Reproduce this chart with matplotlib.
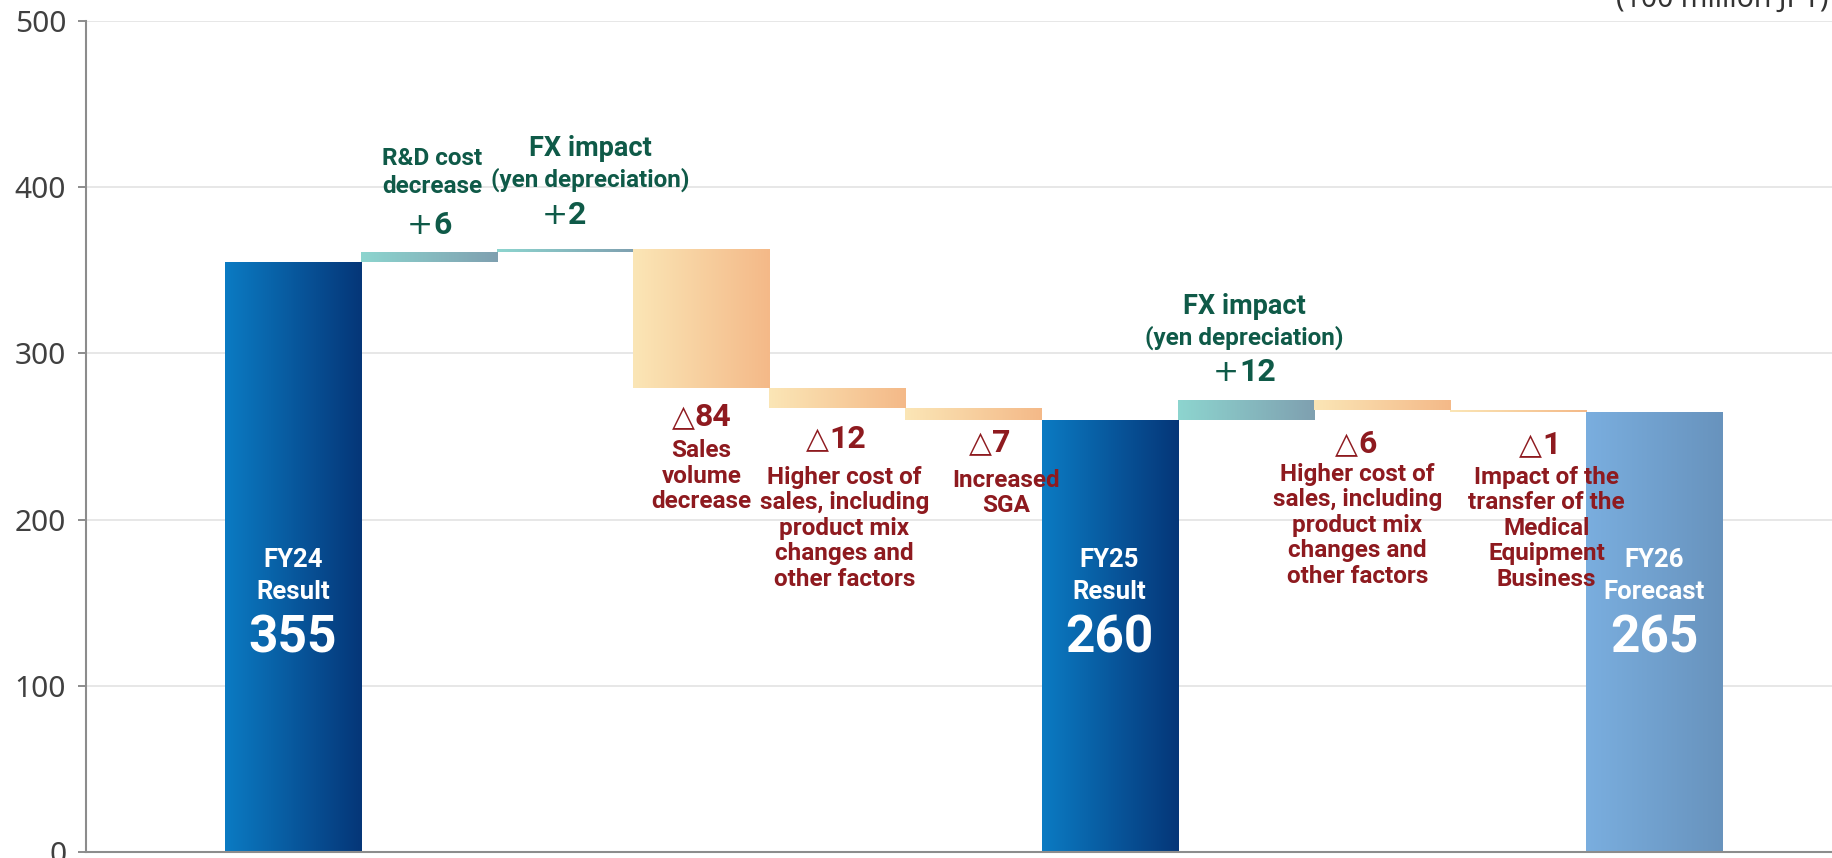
import numpy as np
import matplotlib
matplotlib.use("Agg")
import matplotlib.pyplot as plt
from matplotlib.colors import LinearSegmentedColormap

# ---------------- data ----------------
categories = ["FY24 Result", "R&D cost decrease", "FX impact (yen depreciation)",
              "Sales volume decrease", "Higher cost of sales", "Increased SGA",
              "FY25 Result", "FX impact (yen depreciation)", "Higher cost of sales",
              "Transfer of Medical Equipment Business", "FY26 Forecast"]
values = [355, 6, 2, -84, -12, -7, 260, 12, -6, -1, 265]
kinds = ["total", "delta", "delta", "delta", "delta", "delta",
         "total", "delta", "delta", "delta", "forecast"]

total_titles = {0: ["FY24", "Result"], 6: ["FY25", "Result"], 10: ["FY26", "Forecast"]}
delta_texts = {
    1: ["R&D cost", "decrease"],
    2: ["FX impact", "(yen depreciation)"],
    3: ["Sales", "volume", "decrease"],
    4: ["Higher cost of", "sales, including", "product mix", "changes and", "other factors"],
    5: ["Increased", "SGA"],
    7: ["FX impact", "(yen depreciation)"],
    8: ["Higher cost of", "sales, including", "product mix", "changes and", "other factors"],
    9: ["Impact of the", "transfer of the", "Medical", "Equipment", "Business"],
}
yticks = [0, 100, 200, 300, 400, 500]
unit_label = "(100 million JPY)"

# ---------------- style ----------------
GREEN = "#0f5a48"
RED = "#8e1a1f"
LABEL_FONT = ["Roboto", "DejaVu Sans"]
grad_colors = {
    "total": ("#0b7bc3", "#053678"),
    "forecast": ("#7aaedf", "#6893bd"),
    "pos": ("#8dd5cf", "#7fa0b0"),
    "neg": ("#fbe6b6", "#f4b988"),
}

fig = plt.figure(figsize=(18.32, 8.58), dpi=100)
ax = fig.add_axes([86 / 1832, 6 / 858, 1 - 86 / 1832, 831 / 858])

x = np.arange(len(values))

bottoms = []
heights = []
run = 0
for v, k in zip(values, kinds):
    if k in ("total", "forecast"):
        bottoms.append(0)
        heights.append(v)
        run = v
    else:
        bottoms.append(run)
        heights.append(v)
        run += v


def grad_bar(xi, b, h, c1, c2):
    bar = ax.bar(xi, h, bottom=b, width=1.0, color="none", linewidth=0, zorder=2)[0]
    cmap = LinearSegmentedColormap.from_list("g", [c1, c2])
    grad = np.linspace(0, 1, 256).reshape(1, -1)
    y0, y1 = sorted([b, b + h])
    im = ax.imshow(grad, cmap=cmap, extent=[xi - 0.5, xi + 0.5, y0, y1],
                   aspect="auto", zorder=2, interpolation="bilinear")
    im.set_clip_path(bar)


for i, (b, h, k) in enumerate(zip(bottoms, heights, kinds)):
    if k == "total":
        c = grad_colors["total"]
    elif k == "forecast":
        c = grad_colors["forecast"]
    elif h >= 0:
        c = grad_colors["pos"]
    else:
        c = grad_colors["neg"]
    grad_bar(x[i], b, h, *c)

ax.set_xlim(-1.521, 11.308)
ax.set_ylim(0, 500)

for s in ("top", "right"):
    ax.spines[s].set_visible(False)
for s in ("left", "bottom"):
    ax.spines[s].set_color("#8c8c8c")
    ax.spines[s].set_linewidth(1.5)
    ax.spines[s].set_zorder(4)
ax.set_yticks(yticks)
ax.set_yticklabels([str(t) for t in yticks])
ax.tick_params(axis="y", length=5.8, width=1.4, color="#8c8c8c", pad=8.5,
               labelsize=21.5, labelcolor="#404040")
for lbl in ax.get_yticklabels():
    lbl.set_fontfamily("Noto Sans")
ax.set_xticks([])
ax.yaxis.grid(True, color="#e0e0e0", linewidth=1.1, zorder=0)
ax.set_axisbelow(True)

fig.text(1829 / 1832, 1 - 7 / 858, unit_label, ha="right", va="baseline",
         fontsize=20.5, color="#333333", family="Noto Sans")

# total labels (white in bars)
for i, lines in total_titles.items():
    ax.text(x[i], 175.5, lines[0], ha="center", va="center", color="white",
            fontsize=18.5, family="Roboto", fontweight="bold", zorder=5)
    ax.text(x[i], 156.5, lines[1], ha="center", va="center", color="white",
            fontsize=18.5, family="Roboto", fontweight="bold", zorder=5)
    ax.text(x[i], 128.5, str(values[i]), ha="center", va="center", color="white",
            fontsize=37, family="Roboto", fontweight="bold", zorder=5)

# (text x offset, first line y, line step, number x offset, number baseline y)
place = {
    1: (0.02, 417.5, 16.9, 0.0, 371.7),
    2: (0.186, 423.5, 18.8, -0.01, 377.7),
    3: (0.0, 241.3, 15.35, 0.0, 256.1),
    4: (0.05, 225.6, 15.35, -0.01, 242.9),
    5: (0.24, 223.8, 15.35, 0.12, 240.5),
    7: (-0.01, 328.5, 18.9, -0.01, 283.2),
    8: (-0.18, 227.3, 15.35, -0.19, 240.1),
    9: (0.21, 225.6, 15.35, 0.16, 239.3),
}

pairs = []
for i, lines in delta_texts.items():
    dx, y0, step, ndx, ny = place[i]
    col = GREEN if values[i] > 0 else RED
    for j, line in enumerate(lines):
        fs = 19.5 if line == "FX impact" else 17.5
        ax.text(x[i] + dx, y0 - j * step, line, ha="center", va="center",
                color=col, fontsize=fs, family=LABEL_FONT, fontweight="bold",
                zorder=6)
    prefix = "+" if values[i] > 0 else "\u25b3"
    num = str(abs(values[i]))
    t1 = ax.text(x[i] + ndx, ny, prefix, ha="right", va="baseline", color=col,
                 fontsize=22.5 if prefix == "+" else 21.5, family="DejaVu Sans",
                 fontweight="normal", zorder=6)
    t2 = ax.text(x[i] + ndx, ny, num, ha="left", va="baseline", color=col,
                 fontsize=23, family=LABEL_FONT, fontweight="bold", zorder=6)
    pairs.append((t1, t2, x[i] + ndx))

fig.canvas.draw()
r = fig.canvas.get_renderer()
px_per_unit = ax.transData.transform((1, 0))[0] - ax.transData.transform((0, 0))[0]
for t1, t2, xc in pairs:
    w1 = t1.get_window_extent(r).width
    w2 = t2.get_window_extent(r).width
    shift = (w1 - w2) / 2 / px_per_unit
    t1.set_x(xc + shift)
    t2.set_x(xc + shift)

fig.savefig("out.png", dpi=100)
